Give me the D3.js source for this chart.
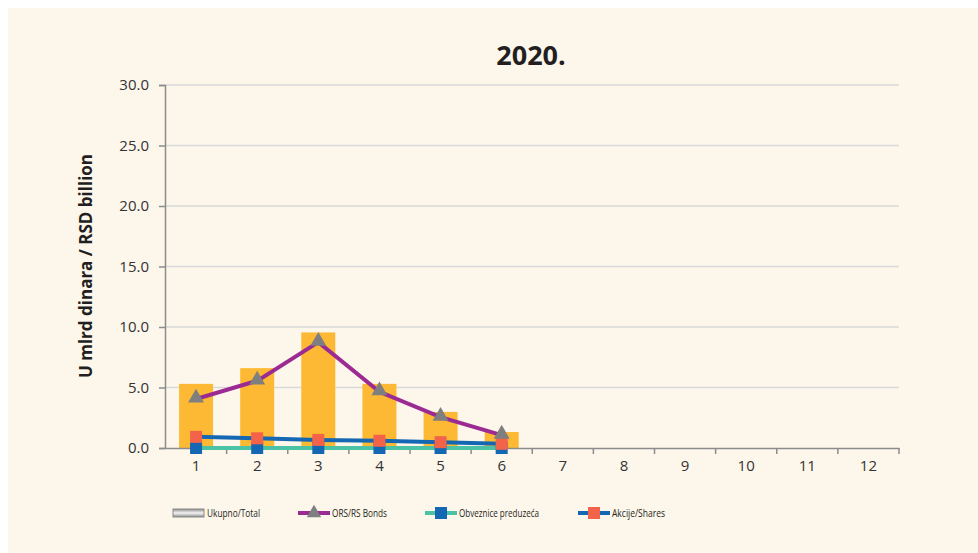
<!DOCTYPE html>
<html>
<head>
<meta charset="utf-8">
<script src="https://cdn.jsdelivr.net/npm/d3@7"></script>
<style>
  body { margin: 0; background: #fff; }
  text { font-family: "Open Sans", "Noto Sans", sans-serif; }
</style>
</head>
<body>
<script>
const w = 978;
const h = 553;

// data
const months = [1, 2, 3, 4, 5, 6, 7, 8, 9, 10, 11, 12];
const total = [5.3, 6.6, 9.55, 5.3, 2.98, 1.32];
const orsBonds = [4.05, 5.55, 8.75, 4.65, 2.55, 1.07];
const corpBonds = [0, 0, 0, 0, 0, 0];
const shares = [0.92, 0.8, 0.67, 0.6, 0.48, 0.35];
const yTicks = [0, 5, 10, 15, 20, 25, 30];

let svg = d3.select("body")
            .append("svg")
            .attr("width", w)
            .attr("height", h)

svg.append("rect")
   .attr("x", 8).attr("y", 8)
   .attr("width", w - 8).attr("height", h - 8)
   .attr("fill", "#fdf6eb")

let x = d3.scaleBand()
          .domain(months)
          .range([165.5, 899])

let y = d3.scaleLinear()
          .domain([0, 30])
          .range([448, 85])

let cx = (i) => x(months[i]) + x.bandwidth() / 2;

// gridlines
svg.append("g")
   .selectAll("line")
   .data(yTicks.slice(1))
   .enter()
   .append("line")
   .attr("x1", x.range()[0]).attr("x2", x.range()[1])
   .attr("y1", (d) => y(d)).attr("y2", (d) => y(d))
   .attr("stroke", "#d9d9d9")
   .attr("stroke-width", 1.5)

// y axis
let yAxis = svg.append("g")
   .attr("transform", "translate(165,0)")
   .call(d3.axisLeft(y).tickValues(yTicks).tickFormat(d3.format(".1f")).tickSize(6).tickPadding(10))
yAxis.select(".domain").attr("stroke", "#8c8c8c").attr("stroke-width", 1.5)
yAxis.selectAll(".tick line").attr("stroke", "#8c8c8c").attr("stroke-width", 1.5)
yAxis.selectAll("text").attr("font-size", 15).attr("fill", "#333")

// bars (Ukupno/Total)
svg.append("g")
   .selectAll("rect")
   .data(total)
   .enter()
   .append("rect")
   .attr("x", (d, i) => cx(i) - 17)
   .attr("width", 34)
   .attr("y", (d) => y(d))
   .attr("height", (d) => y(0) - y(d))
   .attr("fill", "#fdb933")

// x axis
let xAxis = svg.append("g")
   .attr("transform", "translate(0,448)")
   .call(d3.axisBottom(x).tickSize(0).tickPadding(12))
xAxis.select(".domain").attr("stroke", "#8c8c8c").attr("stroke-width", 1.5)
xAxis.selectAll("text").attr("font-size", 15).attr("fill", "#333")
xAxis.selectAll(".sep")
   .data(months)
   .enter()
   .append("line")
   .attr("x1", (d) => x(d) + x.bandwidth()).attr("x2", (d) => x(d) + x.bandwidth())
   .attr("y1", 0).attr("y2", 6)
   .attr("stroke", "#8c8c8c")
   .attr("stroke-width", 1.5)

let line = d3.line().x((d, i) => cx(i)).y((d) => y(d));

// Obveznice preduzeca
svg.append("path")
   .attr("d", line(corpBonds))
   .attr("fill", "none")
   .attr("stroke", "#4cc2a5")
   .attr("stroke-width", 4)

// Akcije/Shares
svg.append("path")
   .attr("d", line(shares))
   .attr("fill", "none")
   .attr("stroke", "#1467b3")
   .attr("stroke-width", 4)

svg.append("g")
   .selectAll("rect")
   .data(corpBonds)
   .enter()
   .append("rect")
   .attr("x", (d, i) => cx(i) - 6)
   .attr("y", (d) => y(d) - 6)
   .attr("width", 12).attr("height", 12)
   .attr("fill", "#1467b3")

svg.append("g")
   .selectAll("rect")
   .data(shares)
   .enter()
   .append("rect")
   .attr("x", (d, i) => cx(i) - 6)
   .attr("y", (d) => y(d) - 6)
   .attr("width", 12).attr("height", 12)
   .attr("fill", "#f2634a")

// ORS/RS Bonds
svg.append("path")
   .attr("d", line(orsBonds))
   .attr("fill", "none")
   .attr("stroke", "#9b2a93")
   .attr("stroke-width", 4)

svg.append("g")
   .selectAll("path")
   .data(orsBonds)
   .enter()
   .append("path")
   .attr("d", d3.symbol().type(d3.symbolTriangle).size(110))
   .attr("transform", (d, i) => "translate(" + cx(i) + "," + (y(d) - 1) + ")")
   .attr("fill", "#7f7f7f")

// title
svg.append("text")
   .attr("x", 531).attr("y", 65)
   .attr("text-anchor", "middle")
   .attr("font-size", 27)
   .attr("font-weight", "bold")
   .attr("fill", "#231f20")
   .text("2020.")

// y label
svg.append("text")
   .attr("transform", "translate(92,266) rotate(-90)")
   .attr("text-anchor", "middle")
   .attr("font-size", 17)
   .attr("font-weight", "bold")
   .attr("fill", "#231f20")
   .text("U mlrd dinara / RSD billion")

// legend
const legendNames = ["Ukupno/Total", "ORS/RS Bonds", "Obveznice preduzeća", "Akcije/Shares"];
const legendX = [173, 298, 425, 578];
const legendTextW = [53, 55, 80, 53];
let lg = svg.append("g").attr("transform", "translate(0,513)");

let grad = svg.append("defs").append("linearGradient")
   .attr("id", "totGrad").attr("x1", 0).attr("x2", 0).attr("y1", 0).attr("y2", 1)
grad.append("stop").attr("offset", "0%").attr("stop-color", "#8a8a8a")
grad.append("stop").attr("offset", "50%").attr("stop-color", "#f5f5f5")
grad.append("stop").attr("offset", "100%").attr("stop-color", "#8a8a8a")

lg.append("rect")
  .attr("x", legendX[0]).attr("y", -4).attr("width", 31).attr("height", 8)
  .attr("fill", "url(#totGrad)").attr("stroke", "#8a8a8a").attr("stroke-width", 1)
lg.append("line")
  .attr("x1", legendX[1]).attr("x2", legendX[1] + 32).attr("y1", 0).attr("y2", 0)
  .attr("stroke", "#9b2a93").attr("stroke-width", 4)
lg.append("path")
  .attr("d", d3.symbol().type(d3.symbolTriangle).size(90))
  .attr("transform", "translate(" + (legendX[1] + 16) + ",0)")
  .attr("fill", "#7f7f7f")
lg.append("line")
  .attr("x1", legendX[2]).attr("x2", legendX[2] + 32).attr("y1", 0).attr("y2", 0)
  .attr("stroke", "#4cc2a5").attr("stroke-width", 4)
lg.append("rect")
  .attr("x", legendX[2] + 10).attr("y", -6).attr("width", 12).attr("height", 12)
  .attr("fill", "#1467b3")
lg.append("line")
  .attr("x1", legendX[3]).attr("x2", legendX[3] + 32).attr("y1", 0).attr("y2", 0)
  .attr("stroke", "#1467b3").attr("stroke-width", 4)
lg.append("rect")
  .attr("x", legendX[3] + 10).attr("y", -6).attr("width", 12).attr("height", 12)
  .attr("fill", "#f2634a")

lg.selectAll("text")
  .data(legendNames)
  .enter()
  .append("text")
  .attr("x", (d, i) => legendX[i] + 34)
  .attr("y", 4)
  .attr("font-size", 11.5)
  .attr("textLength", (d, i) => legendTextW[i])
  .attr("lengthAdjust", "spacingAndGlyphs")
  .attr("fill", "#231f20")
  .text((d) => d)
</script>
</body>
</html>
